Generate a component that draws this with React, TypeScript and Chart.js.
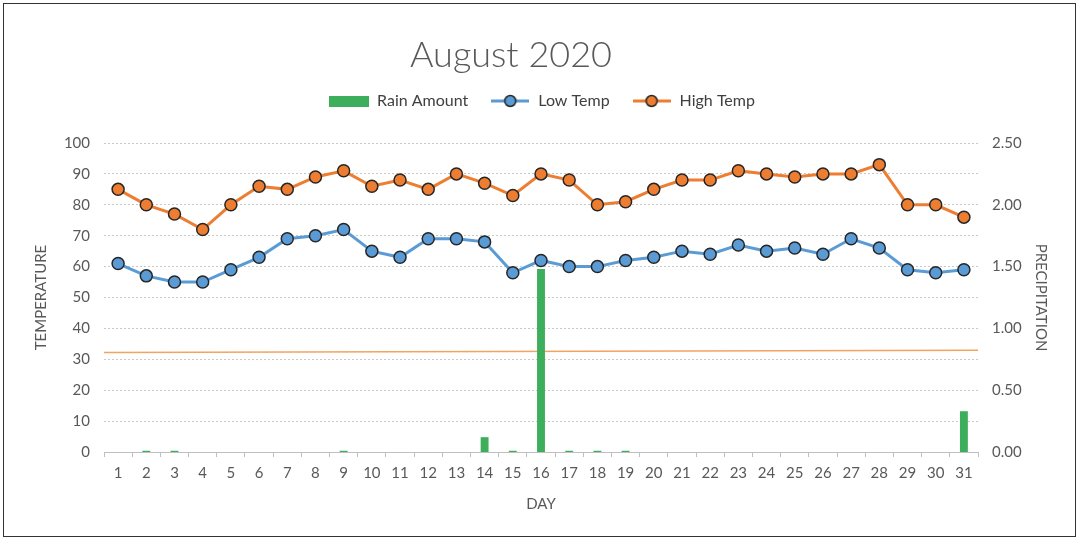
import React, { useEffect, useRef } from 'react';
import { Chart, registerables } from 'chart.js';

Chart.register(...registerables);

const chartTitle = 'August 2020';
const days = ['1','2','3','4','5','6','7','8','9','10','11','12','13','14','15','16','17','18','19','20','21','22','23','24','25','26','27','28','29','30','31'];
const lowTemp = [61,57,55,55,59,63,69,70,72,65,63,69,69,68,58,62,60,60,62,63,65,64,67,65,66,64,69,66,59,58,59];
const highTemp = [85,80,77,72,80,86,85,89,91,86,88,85,90,87,83,90,88,80,81,85,88,88,91,90,89,90,90,93,80,80,76];
const rainAmount = [0,0.01,0.01,0,0,0,0,0,0.01,0,0,0,0,0.12,0.01,1.48,0.01,0.01,0.01,0,0,0,0,0,0,0,0,0,0,0,0.33];
const freezeLine = [32.2, 32.9];

const BLUE = '#5b9bd5';
const ORANGE = '#ed7d31';
const GREEN = '#3dae5b';
const TEXT = '#595959';
const FONT = 'Lato, "Open Sans", sans-serif';

function makeLineIcon(color: string): HTMLCanvasElement {
  const c = document.createElement('canvas');
  c.width = 38; c.height = 16;
  const ctx = c.getContext('2d')!;
  ctx.strokeStyle = color; ctx.lineWidth = 3;
  ctx.beginPath(); ctx.moveTo(0, 8); ctx.lineTo(38, 8); ctx.stroke();
  ctx.beginPath(); ctx.arc(19, 8, 5.5, 0, Math.PI * 2);
  ctx.fillStyle = color; ctx.fill();
  ctx.strokeStyle = '#262626'; ctx.lineWidth = 1.5; ctx.stroke();
  return c;
}
function makeBarIcon(color: string): HTMLCanvasElement {
  const c = document.createElement('canvas');
  c.width = 40; c.height = 11;
  const ctx = c.getContext('2d')!;
  ctx.fillStyle = color; ctx.fillRect(0, 0, 40, 11);
  return c;
}

const freezePlugin = {
  id: 'freezeLine',
  beforeDatasetsDraw(chart: any) {
    const { ctx, chartArea, scales } = chart;
    const y0 = scales.y.getPixelForValue(freezeLine[0]);
    const y1 = scales.y.getPixelForValue(freezeLine[1]);
    ctx.save();
    ctx.strokeStyle = '#f2a35e';
    ctx.lineWidth = 1.5;
    ctx.beginPath();
    ctx.moveTo(chartArea.left, y0);
    ctx.lineTo(chartArea.right, y1);
    ctx.stroke();
    ctx.restore();
  },
};

const titlePlugin = {
  id: 'offsetTitle',
  afterDraw(chart: any) {
    const { ctx } = chart;
    ctx.save();
    ctx.fillStyle = TEXT;
    ctx.font = `300 36px ${FONT}`;
    ctx.textAlign = 'center';
    ctx.textBaseline = 'middle';
    ctx.fillText(chartTitle, 511, 55);
    ctx.restore();
  },
};

const legendSpacePlugin = {
  id: 'legendSpace',
  beforeInit(chart: any) {
    const lg = chart.legend;
    if (lg && !lg.__patched) {
      const orig = lg.fit;
      lg.fit = function () {
        orig.call(this);
        this.height += 24;
      };
      lg.__patched = true;
    }
  },
};

export default function App() {
  const ref = useRef<HTMLCanvasElement>(null);
  useEffect(() => {
    document.body.style.margin = '0';
    const icons = [makeBarIcon(GREEN), makeLineIcon(BLUE), makeLineIcon(ORANGE)];
    const chart = new Chart(ref.current!, {
      type: 'bar',
      data: {
        labels: days,
        datasets: [
          {
            type: 'bar',
            label: 'Rain Amount',
            data: rainAmount,
            backgroundColor: GREEN,
            yAxisID: 'y1',
            categoryPercentage: 1,
            barPercentage: 0.28,
            order: 3,
          } as any,
          {
            type: 'line',
            label: 'Low Temp',
            data: lowTemp,
            borderColor: BLUE,
            backgroundColor: BLUE,
            borderWidth: 3,
            pointRadius: 6,
            pointBorderColor: '#262626',
            pointBorderWidth: 1.5,
            pointBackgroundColor: BLUE,
            yAxisID: 'y',
            order: 2,
          },
          {
            type: 'line',
            label: 'High Temp',
            data: highTemp,
            borderColor: ORANGE,
            backgroundColor: ORANGE,
            borderWidth: 3,
            pointRadius: 6,
            pointBorderColor: '#262626',
            pointBorderWidth: 1.5,
            pointBackgroundColor: ORANGE,
            yAxisID: 'y',
            order: 1,
          },
        ],
      },
      options: {
        animation: false,
        responsive: false,
        layout: { padding: { left: 28, right: 22, top: 71, bottom: 23 } },
        plugins: {
          title: { display: false },
          legend: {
            display: true,
            position: 'top',
            labels: {
              color: '#404040',
              font: { family: FONT, size: 16 },
              usePointStyle: true,
              pointStyleWidth: 40,
              padding: 22,
              generateLabels: (ch: any) =>
                ch.data.datasets.map((ds: any, i: number) => ({
                  text: ds.label,
                  pointStyle: icons[i],
                  datasetIndex: i,
                  fontColor: '#404040',
                  hidden: false,
                  lineWidth: 0,
                })),
            },
          },
          tooltip: { enabled: false },
        },
        scales: {
          x: {
            offset: true,
            grid: { display: true, drawOnChartArea: false, drawTicks: true, tickLength: 5, color: '#bfbfbf', offset: true },
            border: { display: true, color: '#bfbfbf' },
            ticks: { color: TEXT, font: { family: FONT, size: 15 }, padding: 7, maxRotation: 0, autoSkip: false },
            title: { display: true, text: 'DAY', color: TEXT, font: { family: FONT, size: 15 }, padding: { top: 4 } },
            afterFit: (s: any) => { s.height = 65; },
          },
          y: {
            position: 'left',
            min: 0,
            max: 100,
            ticks: { stepSize: 10, color: TEXT, font: { family: FONT, size: 15 }, padding: 14 },
            grid: { color: '#c8c8c8', drawTicks: false },
            border: { display: false, dash: [2, 2] },
            title: { display: true, text: 'TEMPERATURE', color: TEXT, font: { family: FONT, size: 15 }, padding: { bottom: 10 } },
            afterFit: (s: any) => { s.width = 76; },
          } as any,
          y1: {
            position: 'right',
            min: 0,
            max: 2.5,
            ticks: { stepSize: 0.5, color: TEXT, font: { family: FONT, size: 15 }, padding: 14, callback: (v: any) => Number(v).toFixed(2) },
            grid: { display: false, drawTicks: false },
            border: { display: false },
            title: { display: true, text: 'PRECIPITATION', color: TEXT, font: { family: FONT, size: 15 }, padding: { top: 6 } },
            afterFit: (s: any) => { s.width = 78; },
          } as any,
        },
      },
      plugins: [legendSpacePlugin, freezePlugin, titlePlugin],
    });
    return () => chart.destroy();
  }, []);
  return (
    <div style={{ position: 'fixed', left: 0, top: 0, width: 1078, height: 540, background: '#fff' }}>
      <canvas ref={ref} width={1078} height={540} style={{ position: 'absolute', left: 0, top: 0 }} />
      <div style={{ position: 'absolute', left: 3, top: 3, width: 1071, height: 532, border: '1.5px solid #333', pointerEvents: 'none' }} />
    </div>
  );
}
